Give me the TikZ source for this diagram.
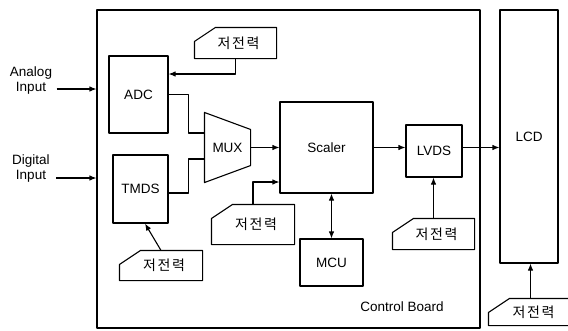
\documentclass[tikz,border=0pt]{standalone}
\usepackage{fontspec}
\setmainfont{Liberation Sans}
\newfontfamily\kor[LetterSpace=12]{Noto Sans CJK KR}
\usetikzlibrary{arrows.meta}
\begin{document}
\begin{tikzpicture}[x=1pt, y=-1pt, line width=1.1pt, line join=round, >={Latex[length=7pt,width=5.5pt]},
	font=\fontsize{13.5}{15}\selectfont,
	block/.style={draw, inner sep=0pt},
	tagbox/.style={font=\fontsize{14}{16}\selectfont\kor, inner sep=0pt, execute at begin node=\hspace*{6pt},
		append after command={\pgfextra{\draw ([xshift=21pt]\tikzlastnode.north west) -- (\tikzlastnode.north east)
		-- (\tikzlastnode.south east) -- (\tikzlastnode.south west) -- ([yshift=-14pt]\tikzlastnode.north west) -- cycle;}}},
	muxbox/.style={inner sep=0pt, minimum width=45, minimum height=69,
		append after command={\pgfextra{\draw (\tikzlastnode.north west) -- ([yshift=-17pt]\tikzlastnode.north east)
		-- ([yshift=17pt]\tikzlastnode.south east) -- (\tikzlastnode.south west) -- cycle;}}}]
	\useasboundingbox (0,0) rectangle (568,330);
	\node[block, minimum width=383, minimum height=318] (board) at (288.5,169) {};
	\node (cb) at (402,307) {Control Board};
	\node[align=center, inner sep=2pt] (ain) at (31,81) {Analog\\Input};
	\node[align=center, inner sep=2pt] (din) at (31,169) {Digital\\Input};
	\node[block, minimum width=59, minimum height=77] (adc) at (138.5,94.5) {ADC};
	\node[block, minimum width=55, minimum height=68] (tmds) at (140.5,189) {TMDS};
	\node[muxbox] (mux) at (227.5,147.5) {MUX};
	\node[block, minimum width=93, minimum height=91] (scaler) at (326.5,147.5) {Scaler};
	\node[block, minimum width=56, minimum height=52] (lvds) at (434,151) {LVDS};
	\node[block, minimum width=63, minimum height=47] (mcu) at (331.5,262.5) {MCU};
	\node[block, minimum width=58, minimum height=253] (lcd) at (529,136.5) {LCD};
	\node[tagbox, minimum width=81, minimum height=30] (p1) at (235.5,43) {저전력};
	\node[tagbox, minimum width=82, minimum height=39] (p2) at (253,224.5) {저전력};
	\node[tagbox, minimum width=82, minimum height=29] (p3) at (161,265.5) {저전력};
	\node[tagbox, minimum width=81, minimum height=30] (p4) at (433.5,234) {저전력};
	\node[tagbox, minimum width=83, minimum height=26] (p5) at (530.5,312) {저전력};
	\draw[->] ([xshift=2pt,yshift=-8pt]ain.east) -- ([yshift=-8pt]ain.east -| board.west);
	\draw[->] ([xshift=4pt,yshift=-9pt]din.east) -- ([yshift=-9pt]din.east -| board.west);
	\draw (adc.east) -- ++(20,0) |- ([yshift=14.5pt]mux.west);
	\draw ([yshift=-4pt]tmds.east) -- ++(20,0) |- ([yshift=-11.5pt]mux.west);
	\draw[->] (mux.east) -- (scaler.west);
	\draw[->] (scaler.east) -- (scaler.east -| lvds.west);
	\draw[->] (lvds.east |- scaler.east) -- (scaler.east -| lcd.west);
	\draw[<->] (mcu.north |- scaler.south) -- (mcu.north);
	\draw[->] (p1.south) |- ([yshift=20.5pt]adc.east);
	\draw[->] (p2.north) |- ([yshift=-34.5pt]scaler.west);
	\draw[->] (p3.north) -- ([xshift=4.5pt]tmds.south);
	\draw[->] (p4.north) -- (p4.north |- lvds.south);
	\draw[->] (p5.north) -- (p5.north |- lcd.south);
\end{tikzpicture}
\end{document}
